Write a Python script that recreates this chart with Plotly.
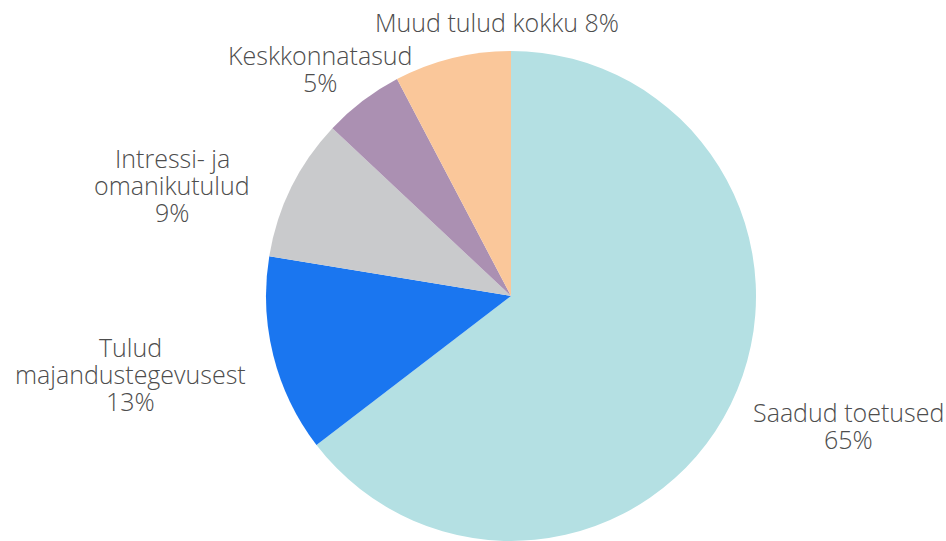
import plotly.graph_objects as go

categories = ["Saadud toetused", "Tulud majandustegevusest", "Intressi- ja omanikutulud",
              "Keskkonnatasud", "Muud tulud kokku"]
values = [64.6, 13.0, 9.4, 5.3, 7.7]
colors = ["#b4e0e3", "#1a76f0", "#c9cacc", "#ab90b2", "#fac79a"]

# label layout (text lines, and position of first line in pixels)
label_lines = [["Saadud toetused"], ["Tulud", "majandustegevusest"],
               ["Intressi- ja", "omanikutulud"], ["Keskkonnatasud"], ["Muud tulud kokku"]]
pct_same_line = [False, False, False, False, True]
label_x = [848, 130, 172, 320, 497]
label_y0 = [412, 347, 158, 55, 22]
LINE_GAP = 27

W, H = 946, 541
CX, CY, R = 511, 296, 245

fig = go.Figure(go.Pie(
    labels=categories,
    values=values,
    sort=False,
    direction="clockwise",
    rotation=0,
    marker=dict(colors=colors, line=dict(width=0)),
    textinfo="none",
    showlegend=False,
    hoverinfo="label+percent",
    domain=dict(x=[(CX - R) / W, (CX + R) / W], y=[0, 2 * R / H]),
))

total = sum(values)
font = dict(family="Open Sans", size=25, color="#4d4d4d", weight=300)
for lines, same, x, y0, v in zip(label_lines, pct_same_line, label_x, label_y0, values):
    pct = f"{round(v / total * 100)}%"
    lines = list(lines)
    if same:
        lines[-1] = lines[-1] + " " + pct
    else:
        lines.append(pct)
    for i, line in enumerate(lines):
        fig.add_annotation(
            x=x / W, y=1 - (y0 + i * LINE_GAP) / H,
            xref="paper", yref="paper",
            text=line, showarrow=False,
            xanchor="center", yanchor="middle",
            font=font,
        )

fig.update_layout(
    width=W, height=H,
    margin=dict(l=0, r=0, t=0, b=0),
    paper_bgcolor="white",
    plot_bgcolor="white",
)

fig.write_html("out.html",
               config={"displayModeBar": False},
               post_script="document.body.style.margin='0';document.body.style.overflow='hidden';")
